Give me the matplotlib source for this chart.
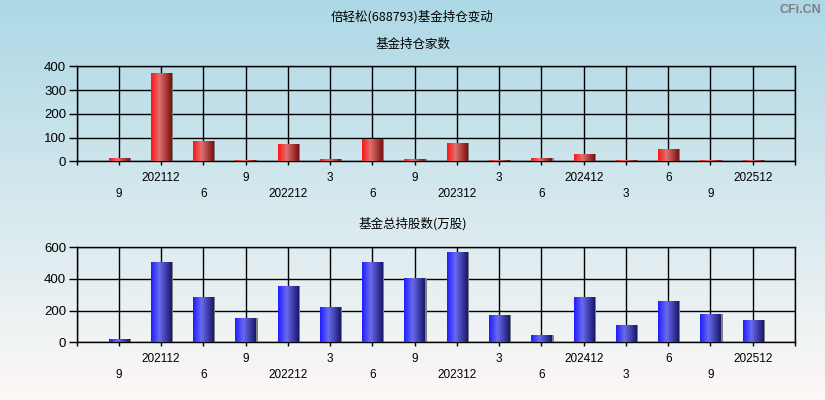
import numpy as np
import matplotlib
matplotlib.use('Agg')
import matplotlib.pyplot as plt
from matplotlib.colors import LinearSegmentedColormap
from matplotlib.transforms import offset_copy

plt.rcParams['font.family'] = ['Noto Sans CJK SC', 'DejaVu Sans']

# 报告期 (两行交错显示)
periods = ['9', '202112', '6', '9', '202212', '3', '6', '9',
           '202312', '3', '6', '202412', '3', '6', '9', '202512']
# 基金持仓家数
fund_count = [13, 372, 85, 5, 73, 10, 94, 10, 77, 5, 13, 31, 5, 52, 5, 5]
# 基金总持股数(万股)
fund_shares = [21, 507, 286, 153, 356, 223, 507, 406, 570, 172, 46, 286, 109, 261, 179, 141]

fig = plt.figure(figsize=(8.25, 4), dpi=100)

# fond dégradé
bg = fig.add_axes([0, 0, 1, 1], zorder=-10)
bg_cmap = LinearSegmentedColormap.from_list('bg', ['#add8e6', '#fdf8f6'])
bg.imshow(np.linspace(0, 1, 256).reshape(-1, 1), aspect='auto', cmap=bg_cmap,
          extent=(0, 1, 0, 1), origin='upper')
bg.axis('off')

red_cmap = LinearSegmentedColormap.from_list('r', [(0, '#ff1414'), (0.4, '#e07070'), (1, '#7a1010')])
blue_cmap = LinearSegmentedColormap.from_list('b', [(0, '#1e1eff'), (0.4, '#6a6aee'), (1, '#18186e')])


def draw_panel(ax, values, ymax, ystep, cmap):
    n = len(values)
    x = np.arange(1, n + 1)
    shadow_tr = offset_copy(ax.transData, fig=fig, x=2, y=0, units='dots')
    ax.bar(x, values, width=0.48, color='#808080', transform=shadow_tr, zorder=2)
    bars = ax.bar(x, values, width=0.48, color='none', zorder=3)
    g = np.linspace(0, 1, 64).reshape(1, -1)
    for b in bars:
        im = ax.imshow(g, cmap=cmap, aspect='auto', zorder=3,
                       extent=(b.get_x(), b.get_x() + b.get_width(), 0, b.get_height()))
        im.set_clip_path(b)
    ax.set_xlim(0, n + 1)
    ax.set_ylim(0, ymax)
    ax.set_facecolor('none')
    ax.set_axisbelow(True)
    ax.grid(True, color='black', linewidth=1)

    ax.set_yticks(np.arange(0, ymax + 1, ystep))
    ax.tick_params(axis='y', length=6, width=1, pad=1.5, labelsize=9.5)
    for lab in ax.get_yticklabels():
        lab.set_family(['Liberation Sans', 'DejaVu Sans'])

    ax.xaxis.remove_overlapping_locs = False
    pos = np.arange(0, n + 2)
    ax.set_xticks(pos)
    ax.set_xticklabels([periods[p - 1] if 1 <= p <= n and p % 2 == 0 else '' for p in pos])
    odd = np.arange(1, n + 1, 2)
    ax.set_xticks(odd, minor=True)
    ax.set_xticklabels([periods[p - 1] for p in odd], minor=True)
    ax.tick_params(axis='x', which='major', length=3, width=1, pad=5, labelsize=8.5)
    ax.tick_params(axis='x', which='minor', length=0, pad=19.5, labelsize=8.5)
    for lab in ax.get_xticklabels(which='both'):
        lab.set_family(['Liberation Sans', 'DejaVu Sans'])
    ax.grid(False, which='minor')
    for s in ax.spines.values():
        s.set_color('black')
        s.set_linewidth(1)


ax1 = fig.add_axes([76.5 / 825, 1 - 161.3 / 400, 718.5 / 825, 95 / 400])
draw_panel(ax1, fund_count, 400, 100, red_cmap)
ax2 = fig.add_axes([76.5 / 825, 1 - 342.3 / 400, 718.5 / 825, 95 / 400])
draw_panel(ax2, fund_shares, 600, 200, blue_cmap)

fig.text(0.5, 1 - 17 / 400, '倍轻松(688793)基金持仓变动', ha='center', va='center', fontsize=9)
fig.text(0.5, 1 - 44 / 400, '基金持仓家数', ha='center', va='center', fontsize=9)
fig.text(0.5, 1 - 224 / 400, '基金总持股数(万股)', ha='center', va='center', fontsize=9)
fig.text(0.996, 1 - 10 / 400, 'CFi.CN', ha='right', va='center', fontsize=9,
         color='#808080', fontweight='bold', family=['Liberation Sans', 'DejaVu Sans'])

fig.savefig('out.png', dpi=100)
